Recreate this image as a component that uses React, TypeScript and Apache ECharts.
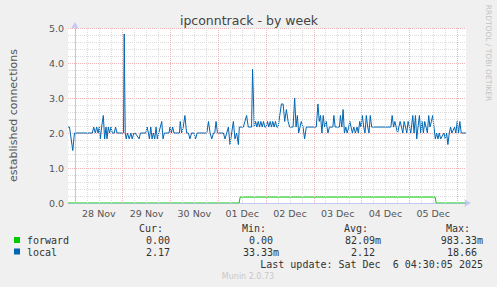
import React, { useEffect, useRef } from "react";
import * as echarts from "echarts";

// Time axis: hours since 28 Nov 2025 00:00 (graph spans 27 Nov 20:30 .. 6 Dec 04:30)
const xStartHour = -3.5;
const xEndHour = 196.5;

const titleText = "ipconntrack - by week";
const yAxisTitle = "established connections";
const dayLabels = ["28 Nov", "29 Nov", "30 Nov", "01 Dec", "02 Dec", "03 Dec", "04 Dec", "05 Dec"];
const yMin = 0;
const yMax = 5;

// forward: [hour, value]
const forwardSeries: [number, number][] = [
  [-3.5, 0], [82.5, 0], [83, 0.17], [181, 0.17], [181.5, 0], [196.5, 0],
];

// local: [hour, value]
const localSeries: [number, number][] = [
  [-3.5, 2.17], [-2.75, 2.17], [-1.1, 1.5], [-0.25, 2.0], [8.75, 2.0], [9.4, 2.17], [10.25, 2.0],
  [10.9, 2.17], [11.6, 2.0], [12.25, 2.17], [12.75, 1.83], [13.4, 2.17], [14.25, 2.5], [14.9, 1.83],
  [15.6, 2.17], [16.1, 1.83], [16.75, 2.17], [17.4, 2.0], [18.1, 2.17], [18.75, 2.0], [19.75, 2.0],
  [20.4, 2.17], [21.1, 2.0], [24.4, 2.0], [24.75, 4.83], [25.25, 2.0], [25.75, 1.83], [26.4, 2.0],
  [27.25, 1.83], [28.1, 2.0], [28.75, 1.83], [29.6, 2.0], [30.25, 2.0], [32.25, 1.83], [32.9, 2.0],
  [35.6, 2.0], [36.25, 2.17], [36.9, 2.0], [37.4, 1.83], [38.1, 2.17], [38.75, 1.83], [39.4, 2.0],
  [40.1, 1.83], [40.75, 2.17], [41.4, 1.83], [42.1, 2.0], [42.9, 2.17], [43.6, 2.33], [44.25, 1.83],
  [44.9, 2.0], [47.25, 2.0], [47.75, 2.17], [48.4, 2.0], [49.1, 2.17], [49.75, 2.0], [52.5, 2.0],
  [52.9, 2.33], [53.6, 2.0], [54.4, 2.17], [55.25, 2.5], [56.1, 2.0], [57, 2.0], [57.75, 1.83],
  [58.6, 2.0], [59.75, 2.0], [60.6, 1.83], [61.4, 2.0],
  [66.25, 2.0], [67.1, 2.33], [67.9, 2.0], [68.75, 1.83], [69.6, 2.0], [70.25, 2.0], [70.9, 2.33],
  [71.6, 2.0], [74.6, 2.0], [75.4, 1.83], [76.25, 2.0], [77.1, 2.17], [77.9, 1.67], [78.75, 2.0],
  [79.6, 2.33], [80.4, 1.83], [81.25, 2.0], [82.1, 1.67], [82.6, 2.17], [84.6, 2.17], [85.4, 2.33],
  [86.25, 2.5], [87.1, 2.17], [88.75, 2.17], [89.25, 3.82], [90.1, 2.17], [90.75, 2.33], [91.4, 2.17],
  [92.1, 2.33], [92.75, 2.17], [93.4, 2.33], [94.1, 2.17], [94.75, 2.33], [95.4, 2.17], [96.1, 2.17],
  [96.75, 2.33], [97.4, 2.17], [98.1, 2.33], [98.75, 2.17], [99.4, 2.33], [100.1, 2.17], [100.75, 2.33],
  [101.4, 2.17], [102.1, 2.17], [102.9, 2.5], [103.75, 2.83], [104.6, 2.83], [105.4, 2.33],
  [106.25, 2.67], [107.1, 2.33], [107.9, 2.17], [109.6, 2.17], [110.4, 3.0], [111.1, 2.17],
  [111.75, 2.5], [112.4, 2.0], [113.1, 2.17], [113.75, 2.33], [114.6, 2.17], [115.4, 1.83],
  [116.25, 2.17], [121.25, 2.17], [122.1, 2.83], [122.75, 2.33], [123.4, 2.5], [124.1, 2.0],
  [124.75, 2.5], [125.4, 2.17], [126.25, 2.33], [127.1, 2.0], [127.9, 2.17], [129.6, 2.17],
  [130.1, 2.5], [130.75, 2.17],
  [132.9, 2.17], [133.4, 2.5], [134.1, 2.17], [134.75, 2.67], [135.4, 2.0], [136.1, 2.17],
  [136.75, 2.0], [137.6, 2.17], [138.1, 2.33], [138.75, 2.17], [139.4, 2.0], [140.1, 2.17],
  [140.9, 2.0], [141.75, 2.17], [142.4, 2.0], [143.1, 2.33], [143.75, 2.17], [144.4, 2.5],
  [145.1, 2.17], [145.75, 2.0], [146.4, 2.5], [147.1, 2.17], [147.75, 2.0], [148.4, 2.5],
  [149.1, 2.17], [158.75, 2.17], [159.4, 2.5], [160.1, 2.17], [160.75, 2.33], [161.4, 2.17],
  [162.1, 2.0], [162.75, 2.17], [163.4, 2.33], [164.1, 2.17], [164.75, 2.0], [165.4, 2.33],
  [166.1, 2.17], [166.75, 2.0], [167.4, 2.33], [168.1, 2.17], [168.75, 2.0], [169.75, 2.5],
  [170.4, 2.0], [171.1, 2.5], [171.75, 1.83], [172.4, 2.17], [173.1, 2.5], [173.75, 2.0],
  [174.4, 2.33], [175.1, 2.0], [175.75, 2.33], [176.4, 2.17], [177.1, 2.0], [177.75, 2.5],
  [178.4, 2.17], [179.1, 2.33], [179.75, 2.5], [180.4, 2.17], [181.1, 1.83], [181.75, 2.0],
  [182.4, 1.83], [183.1, 2.0], [183.75, 1.83], [185.4, 2.0], [186.1, 1.83], [186.75, 2.0],
  [187.4, 1.67], [188.1, 2.0], [188.75, 2.17], [189.4, 2.0], [190.75, 2.17], [191.4, 2.0],
  [192.1, 2.33], [192.75, 2.0], [193.4, 2.33], [194.1, 2.0], [196.5, 2.0],
];

const legendNames = ["forward", "local"];
const legendColors = ["#00cc00", "#0066b3"];
const statHeaders = ["Cur:", "Min:", "Avg:", "Max:"];
const forwardStats = ["0.00", "0.00", "82.09m", "983.33m"];
const localStats = ["2.17", "33.33m", "2.12", "18.66"];
const lastUpdate = "Last update: Sat Dec  6 04:30:05 2025";
const footer = "Munin 2.0.73";
const sideText = "RRDTOOL / TOBI OETIKER";

export default function App() {
  const ref = useRef<HTMLDivElement>(null);
  useEffect(() => {
    if (!ref.current) return;
    const chart = echarts.init(ref.current, undefined, { renderer: "svg" });

    const minorLine = { color: "#dcdcdc", type: [1, 1] as any, width: 1, opacity: 1 };
    const majorLine = { color: "#f0b4b4", type: [1, 1] as any, width: 1, opacity: 1 };

    const minorV: any[] = [];
    const majorV: any[] = [];
    for (let h = 0; h < xEndHour; h += 6) {
      (h % 24 === 0 ? majorV : minorV).push({ xAxis: h });
    }

    const mono = "'DejaVu Sans Mono', monospace";
    const legendColor = "#333";
    const headerRight = [163, 266, 368, 470];
    const colRight = [176, 279, 381, 483];
    const charW = 6;
    const rowY = [240.5, 252];
    const headerY = 228;

    const graphics: any[] = [
      {
        type: "text", x: 249, y: 20,
        style: { text: titleText, fill: "#444", font: "12.5px 'DejaVu Sans'", align: "center", verticalAlign: "middle" },
      },
      {
        type: "text", x: 488, y: 53, rotation: -Math.PI / 2,
        style: { text: sideText, fill: "#c4c4c4", font: "7.5px 'DejaVu Sans'", align: "center", verticalAlign: "middle" },
      },
      {
        type: "text", x: 248, y: 276.5,
        style: { text: footer, fill: "#c8c8c8", font: "8px 'DejaVu Sans'", align: "center", verticalAlign: "middle" },
      },
      {
        type: "text", x: 483, y: 264,
        style: { text: lastUpdate, fill: legendColor, font: `10px ${mono}`, align: "right", verticalAlign: "middle" },
      },
    ];
    statHeaders.forEach((h, i) => {
      graphics.push({
        type: "text", x: headerRight[i], y: headerY,
        style: { text: h, fill: legendColor, font: `10px ${mono}`, align: "right", verticalAlign: "middle" },
      });
    });
    [forwardStats, localStats].forEach((stats, r) => {
      graphics.push({
        type: "rect", shape: { x: 14, y: rowY[r] - 3.5, width: 6, height: 6 },
        style: { fill: legendColors[r] },
      });
      graphics.push({
        type: "text", x: 27, y: rowY[r],
        style: { text: legendNames[r], fill: legendColor, font: `10px ${mono}`, align: "left", verticalAlign: "middle" },
      });
      stats.forEach((s, i) => {
        const hasUnit = /[a-zA-Z]$/.test(s);
        graphics.push({
          type: "text", x: colRight[i] - (hasUnit ? 0 : charW), y: rowY[r],
          style: { text: s, fill: legendColor, font: `10px ${mono}`, align: "right", verticalAlign: "middle" },
        });
      });
    });

    chart.setOption({
      animation: false,
      backgroundColor: "#f0f0f0",
      textStyle: { fontFamily: "DejaVu Sans" },
      grid: {
        left: 66, right: 31, top: 28, bottom: 84,
        show: true, backgroundColor: "#ffffff", borderWidth: 0,
      },
      xAxis: {
        type: "value",
        min: xStartHour,
        max: xEndHour,
        axisLine: {
          show: true, onZero: false,
          lineStyle: { color: "#c4c8f4", width: 1 },
          symbol: ["none", "arrow"], symbolSize: [6, 7], symbolOffset: [0, 5],
        },
        axisTick: { show: false },
        splitLine: { show: false },
        axisLabel: {
          customValues: dayLabels.map((_, i) => 12 + 24 * i),
          formatter: (v: number) => dayLabels[Math.round((v - 12) / 24)] ?? "",
          color: "#555", fontSize: 9.5, margin: 5,
        },
      },
      yAxis: {
        type: "value",
        min: yMin, max: yMax, interval: 1,
        name: yAxisTitle, nameLocation: "middle", nameGap: 49,
        nameTextStyle: { color: "#555", fontSize: 11 },
        axisLine: {
          show: true,
          lineStyle: { color: "#c4c8f4", width: 1 },
          symbol: ["none", "arrow"], symbolSize: [6, 7], symbolOffset: [0, 6],
        },
        axisTick: { show: false },
        axisLabel: { formatter: (v: number) => v.toFixed(1), color: "#555", fontSize: 9.5, margin: 4 },
        splitLine: { show: true, lineStyle: majorLine },
        minorTick: { show: false, splitNumber: 5 },
        minorSplitLine: { show: true, lineStyle: minorLine },
      },
      series: [
        {
          type: "line", data: [], z: 1, silent: true,
          markLine: {
            silent: true, symbol: ["none", "none"], label: { show: false }, animation: false,
            lineStyle: minorLine, emphasis: { disabled: true }, data: minorV,
          },
        },
        {
          type: "line", data: [], z: 1, silent: true,
          markLine: {
            silent: true, symbol: ["none", "none"], label: { show: false }, animation: false,
            lineStyle: majorLine, emphasis: { disabled: true }, data: majorV,
          },
        },
        {
          name: "forward", type: "line", data: forwardSeries, z: 3,
          showSymbol: false, symbol: "none",
          lineStyle: { color: legendColors[0], width: 1 },
        },
        {
          name: "local", type: "line", data: localSeries, z: 4,
          showSymbol: false, symbol: "none",
          lineStyle: { color: legendColors[1], width: 1 },
        },
      ],
      graphic: graphics,
    });
    return () => chart.dispose();
  }, []);
  return <div ref={ref} style={{ position: "fixed", left: 0, top: 0, width: 497, height: 287 }} />;
}
